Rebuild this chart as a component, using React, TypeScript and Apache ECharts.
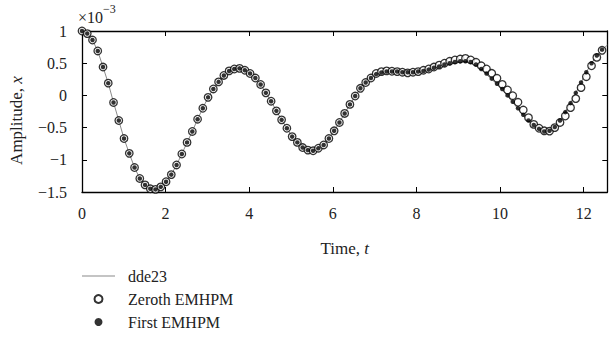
import React, { useEffect, useRef } from "react";
import * as echarts from "echarts";

// Time samples t (s)
const times: number[] = [
  0, 0.126, 0.251, 0.377, 0.503, 0.628, 0.754, 0.880, 1.005, 1.131,
  1.257, 1.382, 1.508, 1.634, 1.759, 1.885, 2.011, 2.136, 2.262, 2.388,
  2.513, 2.639, 2.765, 2.890, 3.016, 3.142, 3.267, 3.393, 3.519, 3.644,
  3.770, 3.896, 4.021, 4.147, 4.273, 4.398, 4.524, 4.650, 4.775, 4.901,
  5.027, 5.152, 5.278, 5.404, 5.529, 5.655, 5.781, 5.906, 6.032, 6.158,
  6.283, 6.409, 6.535, 6.660, 6.786, 6.912, 7.037, 7.163, 7.288, 7.414,
  7.540, 7.665, 7.791, 7.917, 8.042, 8.168, 8.294, 8.419, 8.545, 8.671,
  8.796, 8.922, 9.048, 9.173, 9.299, 9.425, 9.550, 9.676, 9.802, 9.927,
  10.053, 10.179, 10.304, 10.430, 10.556, 10.681, 10.807, 10.933, 11.058, 11.184,
  11.310, 11.435, 11.561, 11.687, 11.812, 11.938, 12.064, 12.189, 12.315, 12.441,
  12.566,
];

// Amplitude values (×10^-3)
const dde23: number[] = [
  1.00, 0.96, 0.86, 0.69, 0.44, 0.19, -0.11, -0.39, -0.67, -0.90,
  -1.12, -1.29, -1.39, -1.45, -1.46, -1.42, -1.34, -1.23, -1.08, -0.91,
  -0.73, -0.56, -0.37, -0.20, -0.03, 0.10, 0.21, 0.31, 0.38, 0.41,
  0.42, 0.39, 0.34, 0.27, 0.17, 0.04, -0.09, -0.24, -0.38, -0.51,
  -0.64, -0.73, -0.81, -0.85, -0.86, -0.82, -0.77, -0.67, -0.55, -0.42,
  -0.28, -0.14, -0.01, 0.11, 0.20, 0.27, 0.32, 0.35, 0.37, 0.37,
  0.37, 0.365, 0.36, 0.365, 0.37, 0.385, 0.40, 0.43, 0.455, 0.48,
  0.50, 0.515, 0.525, 0.52, 0.50, 0.465, 0.40, 0.325, 0.25, 0.17,
  0.09, -0.01, -0.11, -0.21, -0.31, -0.40, -0.47, -0.53, -0.56, -0.55,
  -0.49, -0.39, -0.26, -0.12, 0.04, 0.20, 0.36, 0.50, 0.62, 0.71,
  0.78,
];

const zerothEMHPM: number[] = [
  1.00, 0.96, 0.86, 0.69, 0.44, 0.19, -0.11, -0.39, -0.67, -0.90,
  -1.12, -1.29, -1.39, -1.45, -1.46, -1.42, -1.34, -1.23, -1.08, -0.91,
  -0.73, -0.56, -0.37, -0.20, -0.03, 0.10, 0.21, 0.31, 0.38, 0.41,
  0.42, 0.39, 0.34, 0.27, 0.17, 0.04, -0.09, -0.24, -0.38, -0.51,
  -0.64, -0.73, -0.81, -0.85, -0.86, -0.82, -0.77, -0.67, -0.55, -0.42,
  -0.28, -0.14, -0.01, 0.11, 0.20, 0.27, 0.34, 0.37, 0.38, 0.375,
  0.37, 0.36, 0.35, 0.36, 0.37, 0.39, 0.41, 0.44, 0.47, 0.50,
  0.53, 0.55, 0.565, 0.575, 0.55, 0.514, 0.46, 0.41, 0.343, 0.266,
  0.172, 0.084, -0.005, -0.107, -0.227, -0.346, -0.45, -0.51, -0.55, -0.555,
  -0.50, -0.42, -0.32, -0.19, -0.05, 0.12, 0.29, 0.46, 0.59, 0.70,
];

const firstEMHPM: number[] = [
  1.00, 0.96, 0.86, 0.69, 0.44, 0.19, -0.11, -0.39, -0.67, -0.90,
  -1.12, -1.29, -1.39, -1.45, -1.46, -1.42, -1.34, -1.23, -1.08, -0.91,
  -0.73, -0.56, -0.37, -0.20, -0.03, 0.10, 0.21, 0.31, 0.38, 0.41,
  0.42, 0.39, 0.34, 0.27, 0.17, 0.04, -0.09, -0.24, -0.38, -0.51,
  -0.64, -0.73, -0.81, -0.85, -0.86, -0.82, -0.77, -0.67, -0.55, -0.42,
  -0.28, -0.14, -0.01, 0.11, 0.20, 0.27, 0.33, 0.355, 0.37, 0.37,
  0.37, 0.36, 0.36, 0.36, 0.37, 0.38, 0.40, 0.43, 0.45, 0.48,
  0.50, 0.52, 0.53, 0.53, 0.52, 0.48, 0.41, 0.34, 0.26, 0.18,
  0.10, 0.00, -0.10, -0.20, -0.30, -0.39, -0.46, -0.52, -0.56, -0.55,
  -0.49, -0.39, -0.26, -0.12, 0.04, 0.20, 0.36, 0.50, 0.62, 0.71,
];

const xTickLabels: string[] = ["0", "2", "4", "6", "8", "10", "12"];
const yTickLabels: string[] = ["−1.5", "−1", "−0.5", "0", "0.5", "1"];

const FONT = "'Liberation Serif', 'DejaVu Serif', serif";
const FS = 16;
const FT = 17;

export default function App() {
  const ref = useRef<HTMLDivElement>(null);

  useEffect(() => {
    if (!ref.current) return;
    const chart = echarts.init(ref.current, null, { renderer: "svg" });

    const linePts = dde23.map((v, i) => [times[i], v]);
    const zerothPts = zerothEMHPM.map((v, i) => [times[i], v]);
    const firstPts = firstEMHPM.map((v, i) => [times[i], v]);

    const xMax = times[times.length - 1];
    const axisLine = { show: true, onZero: false, lineStyle: { color: "#000", width: 1.3 } };
    const tick = { show: true, inside: true, length: 5, lineStyle: { color: "#000", width: 1 } };

    const xLabelFmt = (v: number) => {
      const idx = xTickLabels.indexOf(String(Math.round(v)));
      return Math.abs(v - Math.round(v)) < 1e-6 && idx >= 0 ? xTickLabels[idx] : "";
    };
    const yLabelFmt = (v: number) => {
      const k = Math.round((v + 1.5) / 0.5);
      return yTickLabels[k] ?? "";
    };

    const titleRich = {
      a: { fontFamily: FONT, fontSize: FT, color: "#222" },
      b: { fontFamily: FONT, fontSize: FT, fontStyle: "italic", color: "#222" },
    };

    chart.setOption({
      animation: false,
      backgroundColor: "#fff",
      grid: { left: 82, top: 31, right: 1.7, bottom: 166, containLabel: false },
      xAxis: [
        {
          type: "value",
          min: 0,
          max: xMax,
          interval: 2,
          position: "bottom",
          axisLine,
          axisTick: tick,
          splitLine: { show: false },
          axisLabel: {
            formatter: xLabelFmt,
            showMaxLabel: false,
            margin: 13,
            color: "#222",
            fontFamily: FONT,
            fontSize: FS,
          },
          name: "{a|Time, }{b|t}",
          nameLocation: "middle",
          nameGap: 48,
          nameTextStyle: { color: "#222", fontFamily: FONT, fontSize: FT, rich: titleRich },
        },
        {
          type: "value",
          min: 0,
          max: xMax,
          interval: 2,
          position: "top",
          axisLine,
          axisTick: tick,
          splitLine: { show: false },
          axisLabel: { show: false },
        },
      ],
      yAxis: [
        {
          type: "value",
          min: -1.5,
          max: 1,
          interval: 0.5,
          position: "left",
          axisLine,
          axisTick: tick,
          splitLine: { show: false },
          axisLabel: {
            formatter: yLabelFmt,
            margin: 15,
            color: "#222",
            fontFamily: FONT,
            fontSize: FS,
          },
          name: "{a|Amplitude, }{b|x}",
          nameLocation: "middle",
          nameGap: 57,
          nameTextStyle: {
            color: "#222",
            fontFamily: FONT,
            fontSize: FT,
            padding: [0, 18, 0, 0],
            rich: titleRich,
          },
        },
        {
          type: "value",
          min: -1.5,
          max: 1,
          interval: 0.5,
          position: "right",
          axisLine,
          axisTick: tick,
          splitLine: { show: false },
          axisLabel: { show: false },
        },
      ],
      legend: {
        orient: "vertical",
        left: 82,
        top: 268,
        padding: 0,
        itemWidth: 33,
        itemHeight: 8,
        itemGap: 7,
        formatter: (name: string) => `{t|${name}}`,
        textStyle: {
          fontFamily: FONT,
          fontSize: FS,
          color: "#222",
          rich: { t: { fontFamily: FONT, fontSize: FS, color: "#222", padding: [0, 0, 0, 8] } },
        },
        data: [
          { name: "dde23", icon: "path://M0,0L33,0L33,1L0,1Z" },
          { name: "Zeroth EMHPM", icon: "circle" },
          { name: "First EMHPM", icon: "circle" },
        ],
      },
      graphic: [
        {
          type: "text",
          left: 78,
          top: 9,
          style: { text: "×10", font: `${FS}px ${FONT}`, fill: "#222" },
        },
        {
          type: "text",
          left: 103,
          top: 3,
          style: { text: "−3", font: `12px ${FONT}`, fill: "#222" },
        },
      ],
      series: [
        {
          name: "dde23",
          type: "line",
          data: linePts,
          showSymbol: false,
          symbol: "none",
          lineStyle: { color: "#8a8a8a", width: 1 },
          itemStyle: { color: "#8a8a8a" },
          z: 1,
        },
        {
          name: "Zeroth EMHPM",
          type: "scatter",
          data: zerothPts,
          symbol: "circle",
          symbolSize: 7.5,
          itemStyle: { color: "#fff", borderColor: "#000", borderWidth: 1.3 },
          z: 2,
        },
        {
          name: "First EMHPM",
          type: "scatter",
          data: firstPts,
          symbol: "circle",
          symbolSize: 4.5,
          itemStyle: { color: "#000" },
          z: 3,
        },
      ],
    });

    return () => chart.dispose();
  }, []);

  return (
    <div
      ref={ref}
      style={{ position: "fixed", left: 0, top: 0, width: 609, height: 358, background: "#fff" }}
    />
  );
}
